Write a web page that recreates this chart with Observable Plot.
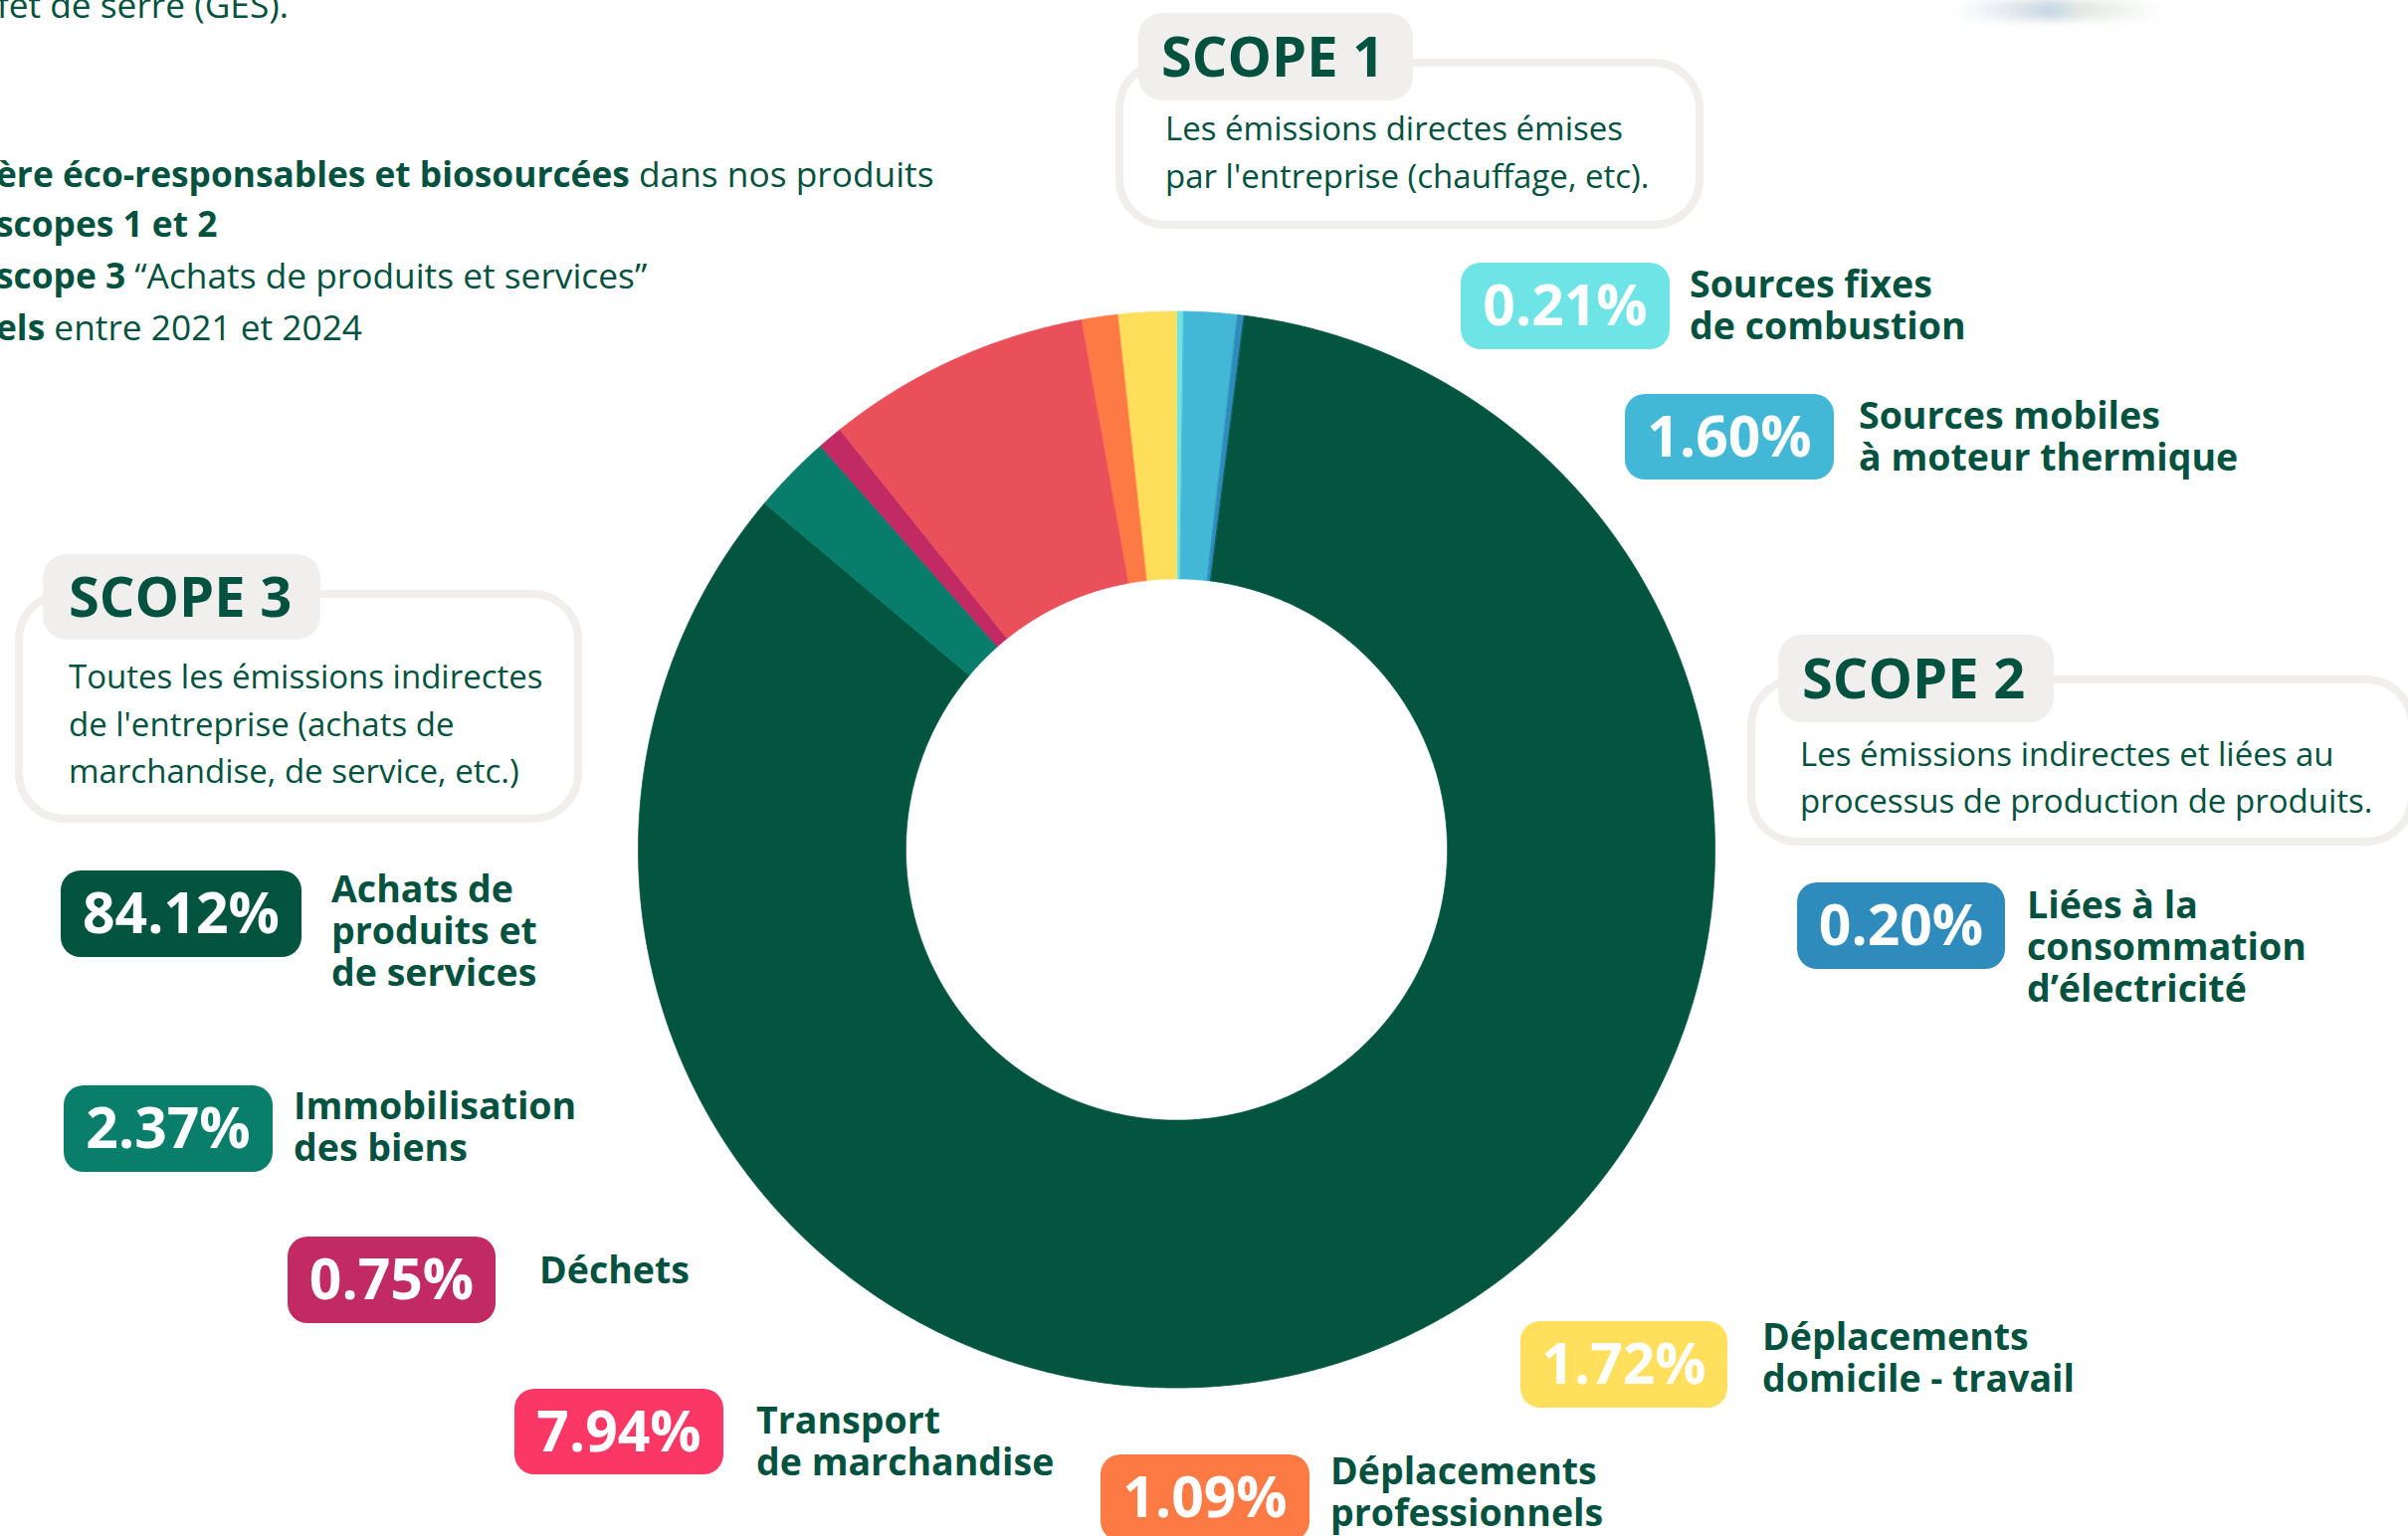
<!DOCTYPE html>
<html><head><meta charset="utf-8">
<script src="https://cdn.jsdelivr.net/npm/d3@7"></script>
<script src="https://cdn.jsdelivr.net/npm/@observablehq/plot@0.6"></script>
<style>
html,body{margin:0;padding:0;background:#fff;}
#root{position:relative;width:2420px;height:1544px;overflow:hidden;font-family:"Open Sans",sans-serif;color:#03523F;}
#root svg{position:absolute;left:0;top:0;}
.abs{position:absolute;white-space:nowrap;}
.box{position:absolute;box-sizing:border-box;border:8px solid #F0EFED;border-radius:50px;background:#fff;}
.tab{position:absolute;background:#F0EFED;border-radius:24px;}
.badge{position:absolute;border-radius:20px;}
.smudge{position:absolute;left:1965px;top:0;width:210px;height:20px;filter:blur(4px);
  background:linear-gradient(90deg,rgba(225,228,232,0) 0%,rgba(215,222,230,0.8) 30%,rgba(190,210,225,0.9) 45%,rgba(220,226,220,0.8) 60%,rgba(230,232,234,0) 100%);}
b{font-weight:700;}
</style></head><body><div id="root"></div>
<script>
// ---------- data ----------
const categories = [
  "Sources fixes de combustion",
  "Sources mobiles à moteur thermique",
  "Liées à la consommation d’électricité",
  "Achats de produits et de services",
  "Immobilisation des biens",
  "Déchets",
  "Transport de marchandise",
  "Déplacements professionnels",
  "Déplacements domicile - travail"
];
const shares = [0.21, 1.60, 0.20, 84.12, 2.37, 0.75, 7.94, 1.09, 1.72];
const labelLines = [
  ["Sources fixes", "de combustion"],
  ["Sources mobiles", "à moteur thermique"],
  ["Liées à la", "consommation", "d’électricité"],
  ["Achats de", "produits et", "de services"],
  ["Immobilisation", "des biens"],
  ["Déchets"],
  ["Transport", "de marchandise"],
  ["Déplacements", "professionnels"],
  ["Déplacements", "domicile - travail"]
];
const scopeTitles = ["SCOPE 1", "SCOPE 2", "SCOPE 3"];
const scopeTexts = [
  ["Les émissions directes émises", "par l'entreprise (chauffage, etc)."],
  ["Les émissions indirectes et liées au", "processus de production de produits."],
  ["Toutes les émissions indirectes", "de l'entreprise (achats de", "marchandise, de service, etc.)"]
];
const introLines = [
  ["", "gaz à effet de serre (GES)."],
  ["ère éco-responsables et biosourcées", " dans nos produits"],
  ["scopes 1 et 2", ""],
  ["scope 3", " “Achats de produits et services”"],
  ["els", " entre 2021 et 2024"]
];

// ---------- styles / layout ----------
const sliceColors = ["#6EE4E7", "#42B8D6", "#2F8BBC", "#03553F", "#087D6C", "#C12A62", "#EA505A", "#FE7A45", "#FFDE5C"];
const badgeColors = ["#6EE4E7", "#42B8D6", "#2F8BBC", "#03543F", "#097E6B", "#C12A62", "#FB3766", "#FE7A45", "#FFDF5C"];
const W = 2420, H = 1544, CX = 1182, CY = 853.5, R = 541, INNER = 0.503;
const badgeBoxes = [[1468,264,210,87],[1633,396,210,86],[1806,887,209,87],[61,875,242,87],[64,1091,210,87],[289,1243,209,87],[517,1396,210,86],[1106,1462,210,87],[1528,1328,208,87]];
const labelPos = [[1698,300],[1868,432],[2037,924],[333,908],[295,1126],[542,1291],[760,1442],[1337,1493],[1771,1358]];
const scopeLayout = [
  {box:[1121,59,591,171], tab:[1144,13,276,88], title:[1167,77], text:[1171,142], lh:48},
  {box:[1756,679,672,171], tab:[1787,638,277,88], title:[1811,702], text:[1809,770], lh:47},
  {box:[15,593,570,234], tab:[43,557,279,86], title:[69,620], text:[69,693], lh:47.5}
];
const introBaselines = [18, 188, 238, 290, 342];

const root = document.getElementById("root");

// ---------- donut via Plot ----------
const arcs = d3.pie().value(d => d).sort(null)(shares);
const ring = [];
arcs.forEach((a, i) => {
  const n = Math.max(2, Math.ceil((a.endAngle - a.startAngle) / (Math.PI / 720)));
  for (let k = 0; k <= n; k++) {
    const t = a.startAngle + (a.endAngle - a.startAngle) * k / n;
    ring.push({category: categories[i], x: Math.sin(t), y: Math.cos(t)});
  }
  for (let k = n; k >= 0; k--) {
    const t = a.startAngle + (a.endAngle - a.startAngle) * k / n;
    ring.push({category: categories[i], x: INNER * Math.sin(t), y: INNER * Math.cos(t)});
  }
});
const chart = Plot.plot({
  width: W, height: H, margin: 0,
  x: {domain: [-1, 1], range: [CX - R, CX + R], axis: null},
  y: {domain: [-1, 1], range: [CY + R, CY - R], axis: null},
  color: {domain: categories, range: sliceColors},
  style: {background: "transparent"},
  marks: [
    Plot.line(ring, {x: "x", y: "y", z: "category", fill: "category", stroke: "category", strokeWidth: 0.8, curve: "linear-closed"})
  ]
});
root.appendChild(chart);

// ---------- annotations ----------
const ASC = 0.3879; // Open Sans: baseline offset = lh/2 + ASC*size
function text(html, x, baseline, size, lh, weight, opts = {}) {
  const d = document.createElement("div");
  d.className = "abs";
  d.innerHTML = html;
  d.style.fontSize = size + "px";
  d.style.lineHeight = lh + "px";
  d.style.fontWeight = weight;
  d.style.top = (baseline - lh / 2 - ASC * size) + "px";
  if (opts.right != null) d.style.right = (W - opts.right) + "px"; else d.style.left = x + "px";
  if (opts.color) d.style.color = opts.color;
  (opts.parent || root).appendChild(d);
  return d;
}
function lines(arr, x, baseline, size, lh, weight) {
  arr.forEach((l, k) => text(l, x, baseline + k * lh, size, lh, weight));
}
function rect(cls, [x, y, w, h], bg) {
  const d = document.createElement("div");
  d.className = cls;
  Object.assign(d.style, {left: x + "px", top: y + "px", width: w + "px", height: h + "px"});
  if (bg) d.style.background = bg;
  root.appendChild(d);
  return d;
}

// faint remnant at top right
const sm = document.createElement("div"); sm.className = "smudge"; root.appendChild(sm);

// intro text (cropped at left edge)
introLines.forEach(([bold, reg], i) => {
  const html = (bold ? `<b>${bold}</b>` : "") + reg;
  if (i === 0) text(html, 0, introBaselines[i], 35.3, 40, 400, {right: 290});
  else text(html, -4, introBaselines[i], 35.3, 40, 400);
});

// scope boxes
scopeLayout.forEach((s, i) => {
  rect("box", s.box);
  rect("tab", s.tab);
  text(scopeTitles[i], s.title[0], s.title[1], 56, 60, 700);
  lines(scopeTexts[i], s.text[0], s.text[1], 33, s.lh, 400);
});

// badges + labels
categories.forEach((c, i) => {
  const [x, y, w, h] = badgeBoxes[i];
  const b = rect("badge", badgeBoxes[i], badgeColors[i]);
  const fs = 57;
  const t = document.createElement("div");
  Object.assign(t.style, {position: "absolute", left: 0, width: "100%", textAlign: "center",
    top: (h / 2 - 0.531 * fs) + "px", fontSize: fs + "px", lineHeight: fs + "px", fontWeight: 700, color: "#fff", whiteSpace: "nowrap"});
  t.textContent = shares[i].toFixed(2) + "%";
  b.appendChild(t);
  lines(labelLines[i], labelPos[i][0], labelPos[i][1], 37.5, 42, 700);
});
</script></body></html>
